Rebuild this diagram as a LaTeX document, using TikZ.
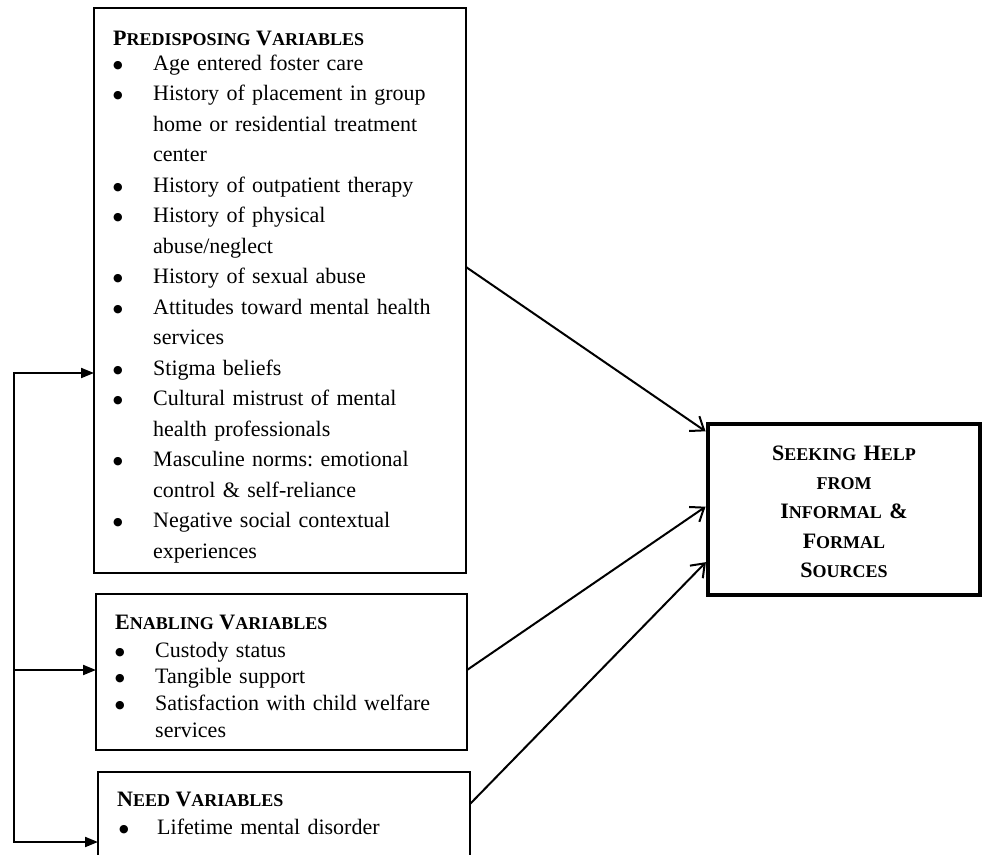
\documentclass[tikz,border=0pt]{standalone}
\usepackage{fontspec}
\setmainfont{Liberation Serif}
\newfontfamily\dejavu{DejaVu Sans}
\usetikzlibrary{arrows.meta,calc}
\frenchspacing
\newcommand\hdsc[2]{#1{\fontsize{18}{18}\selectfont #2}}
\newcommand\bl[1][40pt]{\makebox[#1][l]{\raisebox{2pt}{\fontsize{11}{11}\dejavu ●}}}
\newcommand\ind[1][40pt]{\hspace*{#1}}
\begin{document}
\begin{tikzpicture}[x=1pt,y=-1pt,
  box/.style={draw=black, line width=2pt, rectangle, inner sep=0pt, outer sep=0pt, anchor=north west},
  seekbox/.style={draw=black, line width=4pt, rectangle, inner sep=0pt, outer sep=0pt, anchor=north west},
  head/.style={anchor=base west, inner sep=0pt, font=\fontsize{22}{22}\selectfont\bfseries},
  items/.style={anchor=north west, inner sep=0pt, text width=340pt, align=left},
  link/.style={line width=2pt, draw=black, -{Straight Barb[length=12pt,width=18pt,line width=2pt]}, shorten >=3pt},
  feed/.style={line width=2pt, draw=black, -{Triangle[length=13pt,width=10pt]}},
]
\useasboundingbox (0,0) rectangle (982,854);
\clip (0,0) rectangle (982,854);

% boxes
\node[box, minimum width=372pt, minimum height=565pt] (pre) at (94,8) {};
\node[box, minimum width=371pt, minimum height=156pt] (enab) at (96,594) {};
\node[box, minimum width=372pt, minimum height=94pt] (need) at (98,772) {};
\node[seekbox, minimum width=272pt, minimum height=171pt] (seek) at (708,424) {};

% predisposing
\node[head] (preh) at (113,45) {\hdsc{P}{REDISPOSING} \hdsc{V}{ARIABLES}};
\node[items, font={\fontsize{22}{30.5}\selectfont\setlength{\parindent}{0pt}}] (prei) at (113,50) {%
\rule{0pt}{20pt}\bl Age entered foster care\\
\bl History of placement in group\\
\ind home or residential treatment\\
\ind center\\
\bl History of outpatient therapy\\
\bl History of physical\\
\ind abuse/neglect\\
\bl History of sexual abuse\\
\bl Attitudes toward mental health\\
\ind services\\
\bl Stigma beliefs\\
\bl Cultural mistrust of mental\\
\ind health professionals\\
\bl Masculine norms: emotional\\
\ind control \& self-reliance\\
\bl Negative social contextual\\
\ind experiences};

% enabling
\node[head] (enh) at (115,629) {\hdsc{E}{NABLING} \hdsc{V}{ARIABLES}};
\node[items, font={\fontsize{22}{26.7}\selectfont\setlength{\parindent}{0pt}}] (eni) at (115,637) {%
\rule{0pt}{20pt}\bl Custody status\\
\bl Tangible support\\
\bl Satisfaction with child welfare\\
\ind services};

% need
\node[head] (neh) at (117,806) {\hdsc{N}{EED} \hdsc{V}{ARIABLES}};
\node[items, font={\fontsize{22}{26.7}\selectfont\setlength{\parindent}{0pt}}] (nei) at (119,814) {%
\rule{0pt}{20pt}\bl[38pt]Lifetime mental disorder};

% seeking help
\node[anchor=north, inner sep=0pt, text width=260pt, align=center,
  font={\fontsize{22}{29.3}\selectfont\bfseries}] (seekt) at (844,440) {%
\rule{0pt}{20pt}\hdsc{S}{EEKING} \hdsc{H}{ELP}\\
{\fontsize{18}{18}\selectfont FROM}\\
\hdsc{I}{NFORMAL} \&\\
\hdsc{F}{ORMAL}\\
\hdsc{S}{OURCES}};

% links to outcome
\draw[link] ([yshift=23.5pt]pre.east) -- ([yshift=76.5pt]seek.west);
\draw[link] ([yshift=2pt]enab.east) -- ([yshift=4.5pt]seek.west);
\draw[link] ([yshift=15pt]need.east) -- ([yshift=-50.5pt]seek.west);

% feedback bracket
\coordinate (ft) at (14,373);
\coordinate (fm) at (14,670);
\coordinate (fb) at (14,842);
\draw[feed] (fm) -- (ft) -- (ft -| pre.west);
\draw[feed] (fm) -- (fb) -- (fb -| need.west);
\draw[feed] (fm) -- (fm -| enab.west);
\end{tikzpicture}
\end{document}
